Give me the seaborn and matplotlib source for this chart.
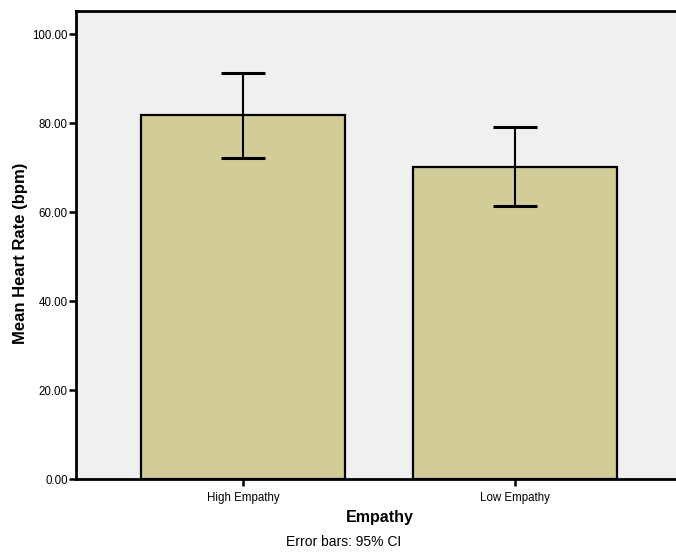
import matplotlib
matplotlib.use('Agg')
import matplotlib.pyplot as plt
import seaborn as sns
import pandas as pd

# values
groups = ['High Empathy', 'Low Empathy']
mean_hr = [81.8, 70.1]
ci_low = [72.1, 61.3]
ci_high = [91.2, 79.1]

df = pd.DataFrame({'Empathy': groups, 'HR': mean_hr})

sns.set_style('white')
plt.rcParams['font.family'] = ['Liberation Sans', 'DejaVu Sans']
plt.rcParams['text.color'] = 'black'
plt.rcParams['axes.labelcolor'] = 'black'
plt.rcParams['xtick.color'] = 'black'
plt.rcParams['ytick.color'] = 'black'

fig = plt.figure(figsize=(6.76, 5.52), dpi=100)
ax = fig.add_axes([76 / 676, 73 / 552, 606 / 676, 468 / 552])
ax.set_facecolor('#F0F0F0')

sns.barplot(data=df, x='Empathy', y='HR', color='#D2CD98', width=0.75,
            edgecolor='black', linewidth=1.6, saturation=1, errorbar=None, ax=ax)

# 95% CI error bars
err = [[m - lo for m, lo in zip(mean_hr, ci_low)],
       [hi - m for m, hi in zip(mean_hr, ci_high)]]
ax.errorbar(range(len(groups)), mean_hr, yerr=err, fmt='none', ecolor='black',
            elinewidth=1.5, capsize=16, capthick=2.2, zorder=5)

ax.set_ylim(0, 105.2)
ax.set_xlim(-0.614, 1.614)
ax.set_yticks([0, 20, 40, 60, 80, 100])
ax.set_yticklabels(['0.00', '20.00', '40.00', '60.00', '80.00', '100.00'])
ax.tick_params(axis='both', direction='out', length=5, width=1.8, labelsize=8.3,
               color='black', left=True, bottom=True)
ax.tick_params(axis='y', pad=1)
ax.tick_params(axis='x', pad=4)

for s in ax.spines.values():
    s.set_visible(True)
    s.set_color('black')
    s.set_linewidth(2)

ax.set_xlabel('Empathy', fontsize=11.5, fontweight='bold')
ax.set_ylabel('Mean Heart Rate (bpm)', fontsize=12, fontweight='bold')
ax.xaxis.set_label_coords(0.502, -0.066)
ax.yaxis.set_label_coords(-0.079, 0.482)
fig.text(344 / 676, 1 - 542 / 552, 'Error bars: 95% CI', ha='center', va='center', fontsize=10)

fig.savefig('out.png', dpi=100)
